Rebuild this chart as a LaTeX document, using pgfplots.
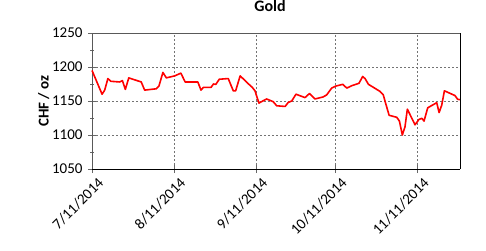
\documentclass[border=0pt]{standalone}
\usepackage{pgfplots}
\pgfplotsset{compat=1.18}
\usepackage{fontspec}
\setmainfont{Carlito}
\begin{document}
\begin{tikzpicture}
\useasboundingbox (0,0) rectangle (486pt,250pt);
\begin{axis}[
  at={(92pt,81pt)}, anchor=south west,
  scale only axis, width=368pt, height=136pt,
  xmin=0, xmax=139.1, ymin=1050, ymax=1250,
  xtick={0,31,62,92,123},
  xticklabels={7/11/2014,8/11/2014,9/11/2014,10/11/2014,11/11/2014},
  ytick={1050,1100,1150,1200,1250},
  minor y tick num=1,
  /pgf/number format/assume math mode=true,
  /pgf/number format/1000 sep={},
  tick label style={font=\fontsize{15}{17}\selectfont},
  xticklabel style={rotate=45, anchor=north east, inner sep=0pt, yshift=-6pt, xshift=1pt},
  yticklabel style={xshift=-2pt},
  tick align=center, major tick length=8pt, minor tick length=4pt,
  every tick/.style={black!60},
  xmajorgrids, ymajorgrids,
  major grid style={black!55, dash pattern=on 2pt off 2pt, line width=0.6pt},
  axis x line*=bottom, axis y line*=left,
  x axis line style={black, line width=1pt, -},
  y axis line style={black!65, line width=1pt, -},
  ylabel={\bfseries CHF / oz},
  ylabel style={font=\fontsize{15}{17}\selectfont, yshift=-4pt},
  title={\bfseries Gold},
  title style={font=\fontsize{16}{18}\selectfont, yshift=12pt, xshift=-6pt},
  clip=false,
]
\addplot[red, line width=1.6pt, line join=round] coordinates {
(0,1195) (3.8,1160) (4.8,1166) (6.0,1183) (7.1,1179) (10.5,1178) (11.5,1180)
(12.6,1167) (13.9,1184) (18.6,1178) (19.9,1166) (24.3,1168) (25.3,1172)
(26.8,1192) (28.1,1184) (31.3,1187) (33.6,1191) (35.2,1178) (40.0,1178)
(41.2,1166) (42.1,1170) (45.0,1170) (45.9,1175) (46.8,1174.5) (48.1,1182)
(51.5,1183) (53.4,1165) (54.3,1165) (56.0,1187) (58.9,1176) (60.6,1170)
(61.6,1165) (63.1,1147) (66.0,1153) (68.5,1149) (69.8,1143) (73.0,1142)
(74.2,1148) (75.5,1150) (77.1,1160) (80.5,1155) (82.2,1161) (84.3,1153)
(87.4,1156) (88.7,1159) (90.6,1169) (92.2,1172) (94.8,1174.5) (96.3,1169)
(98.2,1172.5) (100.9,1176) (102.3,1186) (103.2,1183) (104.5,1174.5)
(106.4,1170) (108.9,1164) (110.1,1159) (111.0,1146.5) (112.3,1129)
(115.2,1126) (116.2,1120.5) (117.3,1100) (118.3,1112) (119.2,1138)
(122.1,1115) (123.6,1123) (124.7,1124.5) (125.5,1120.5) (126.9,1140)
(130.3,1147.5) (131.2,1133) (132.2,1144) (133.2,1165) (137.2,1158)
(138.2,1152.5) (139.1,1152)
};
\draw[black!65, line width=1pt] (rel axis cs:0,1) -- (rel axis cs:1,1);
\draw[black, line width=1pt] (rel axis cs:1,0) -- (rel axis cs:1,1);
\end{axis}
\end{tikzpicture}
\end{document}
